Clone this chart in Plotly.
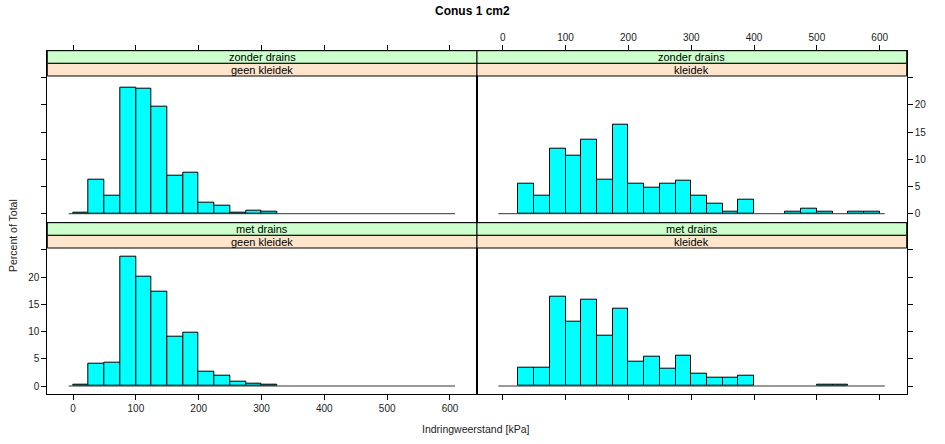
import plotly.graph_objects as go

# ---- data ----
bin_width = 25
bin_starts = list(range(0, 600, 25))  # 24 bins 0..600
zonder_geen = [0.1, 6.3, 3.25, 23.1, 22.9, 19.75, 7.0, 7.55, 2.1, 1.4, 0.1, 0.6, 0.45,
               0, 0, 0, 0, 0, 0, 0, 0, 0, 0, 0]
zonder_klei = [0, 5.6, 3.4, 11.9, 10.7, 13.6, 6.3, 16.3, 5.6, 4.8, 5.6, 6.0, 3.4, 1.9,
               0.4, 2.6, 0, 0, 0.4, 0.9, 0.4, 0, 0.4, 0.4]
met_geen = [0.2, 4.07, 4.2, 23.7, 20.1, 17.3, 9.0, 9.75, 2.65, 1.85, 0.8, 0.5, 0.15,
            0, 0, 0, 0, 0, 0, 0, 0, 0, 0, 0]
met_klei = [0, 3.45, 3.45, 16.4, 11.9, 15.8, 9.2, 14.15, 4.4, 5.3, 3.1, 5.65, 2.2, 1.55,
            1.5, 1.85, 0, 0, 0, 0, 0.3, 0.3, 0, 0]
baseline_x = [-7, 608]
x_ticks = [0, 100, 200, 300, 400, 500, 600]
y_ticks = [0, 5, 10, 15, 20, 25]
y_ticktext = ["0", "5", "10", "15", "20", ""]

panels = [
    ("zonder drains", "geen kleidek", zonder_geen, "x", "y"),
    ("zonder drains", "kleidek", zonder_klei, "x2", "y2"),
    ("met drains", "geen kleidek", met_geen, "x3", "y3"),
    ("met drains", "kleidek", met_klei, "x4", "y4"),
]

W, H = 945, 444
def px(v):  # x pixel -> paper
    return v / W
def py(v):  # y pixel (from top) -> paper
    return (H - v) / H

colL = [px(47.3), px(477)]
colR = [px(477), px(906.7)]
rowT = [py(221.7), py(50.7)]
rowB = [py(394), py(222.7)]

fig = go.Figure()
centers = [s + bin_width / 2 for s in bin_starts]
for top, bot, vals, xa, ya in panels:
    fig.add_trace(go.Scatter(x=baseline_x, y=[0, 0], mode="lines", xaxis=xa, yaxis=ya,
                             line=dict(color="#333", width=1), showlegend=False,
                             hoverinfo="skip"))
    lw = [1 if v > 0 else 0 for v in vals]
    fig.add_trace(go.Bar(x=centers, y=vals, width=bin_width, xaxis=xa, yaxis=ya,
                         marker=dict(color="#00FFFF", line=dict(color="black", width=lw)),
                         showlegend=False, hoverinfo="skip"))

tickfont = dict(family="Liberation Sans, Arial", size=10, color="#222")
xr = [-41, 643]
yrT = [-1.47, 29.96]
yrB = [-1.47, 30.0]

def xax(domain, anchor, side, labels):
    return dict(domain=domain, anchor=anchor, side=side, range=xr, tickvals=x_ticks,
                showticklabels=labels, ticks="outside", ticklen=5, tickcolor="black",
                showline=True, linecolor="black", linewidth=1, mirror=True,
                showgrid=False, zeroline=False, tickfont=tickfont, fixedrange=True)

def yax(domain, anchor, side, labels, rng):
    return dict(domain=domain, anchor=anchor, side=side, range=rng, tickvals=y_ticks,
                ticktext=y_ticktext, showticklabels=labels, ticks="outside", ticklen=5,
                tickcolor="black", showline=True, linecolor="black", linewidth=1,
                mirror=True, showgrid=False, zeroline=False, tickfont=tickfont,
                fixedrange=True)

shapes = []
annotations = []
strip_font = dict(family="Liberation Sans, Arial", size=11, color="black")
for (top, bot, vals, xa, ya), (cx, sy) in zip(
        panels,
        [(colL, 50.7), (colR, 50.7), (colL, 222.7), (colR, 222.7)]):
    h = 12.65
    shapes.append(dict(type="rect", xref="paper", yref="paper", x0=cx[0], x1=cx[1],
                       y0=py(sy + h), y1=py(sy), fillcolor="#CCFFCC",
                       line=dict(color="black", width=1), layer="above"))
    shapes.append(dict(type="rect", xref="paper", yref="paper", x0=cx[0], x1=cx[1],
                       y0=py(sy + 2 * h), y1=py(sy + h), fillcolor="#FFE5CC",
                       line=dict(color="black", width=1), layer="above"))
    annotations.append(dict(text=top, xref="paper", yref="paper", x=(cx[0] + cx[1]) / 2,
                            y=py(sy + h / 2), showarrow=False, font=strip_font,
                            xanchor="center", yanchor="middle"))
    annotations.append(dict(text=bot, xref="paper", yref="paper", x=(cx[0] + cx[1]) / 2,
                            y=py(sy + 1.5 * h), showarrow=False, font=strip_font,
                            xanchor="center", yanchor="middle"))

annotations.append(dict(text="<b>Conus 1 cm2</b>", xref="paper", yref="paper",
                        x=px(473), y=py(11), showarrow=False,
                        font=dict(family="Liberation Sans, Arial", size=12, color="black"),
                        xanchor="center", yanchor="middle"))
annotations.append(dict(text="Percent of Total", xref="paper", yref="paper",
                        x=px(13), y=py(236), showarrow=False, textangle=-90,
                        font=dict(family="Liberation Sans, Arial", size=10.5, color="#222"),
                        xanchor="center", yanchor="middle"))
annotations.append(dict(text="Indringweerstand [kPa]", xref="paper", yref="paper",
                        x=px(476), y=py(429), showarrow=False,
                        font=dict(family="Liberation Sans, Arial", size=10.5, color="#222"),
                        xanchor="center", yanchor="middle"))

fig.update_layout(
    width=W, height=H, margin=dict(l=0, r=0, t=0, b=0),
    paper_bgcolor="white", plot_bgcolor="white", bargap=0, showlegend=False,
    xaxis=xax(colL, "y", "top", False),
    xaxis2=xax(colR, "y2", "top", True),
    xaxis3=xax(colL, "y3", "bottom", True),
    xaxis4=xax(colR, "y4", "bottom", False),
    yaxis=yax(rowT, "x", "left", False, yrT),
    yaxis2=yax(rowT, "x2", "right", True, yrT),
    yaxis3=yax(rowB, "x3", "left", True, yrB),
    yaxis4=yax(rowB, "x4", "right", False, yrB),
    shapes=shapes, annotations=annotations,
)

fig.write_html("out.html")
